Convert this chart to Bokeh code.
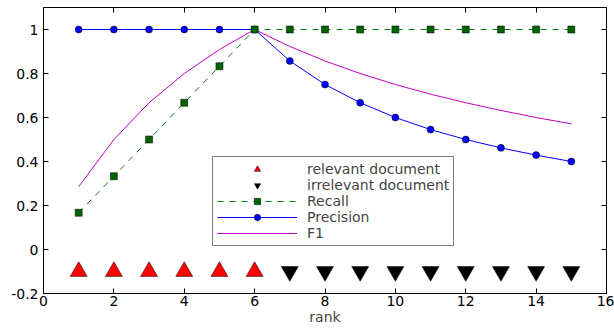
from bokeh.plotting import figure
from bokeh.models import (Range1d, FixedTicker, CustomJSTickFormatter,
                          Legend, LegendItem, LinearAxis)
from bokeh.embed import file_html
from bokeh.resources import INLINE

rank = list(range(1, 16))
relevant_rank = [1, 2, 3, 4, 5, 6]
irrelevant_rank = [7, 8, 9, 10, 11, 12, 13, 14, 15]
marker_level = -0.1
recall = [0.167, 0.333, 0.5, 0.667, 0.833, 1.0, 1.0, 1.0, 1.0, 1.0, 1.0, 1.0, 1.0, 1.0, 1.0]
precision = [1.0, 1.0, 1.0, 1.0, 1.0, 1.0, 0.857, 0.75, 0.667, 0.6, 0.545, 0.5, 0.462, 0.429, 0.4]
f1 = [0.286, 0.5, 0.667, 0.8, 0.909, 1.0, 0.923, 0.857, 0.8, 0.75, 0.706, 0.667, 0.632, 0.6, 0.571]
x_ticks = [0, 2, 4, 6, 8, 10, 12, 14, 16]
y_ticks = [-0.2, 0, 0.2, 0.4, 0.6, 0.8, 1.0]

FONT = "DejaVu Sans"

p = figure(width=614, height=332, output_backend="svg", toolbar_location=None,
           x_range=Range1d(0, 16), y_range=Range1d(-0.2, 1.1),
           min_border_left=43, min_border_right=8, min_border_top=7, min_border_bottom=39)
p.grid.visible = False
p.outline_line_color = "black"
p.outline_line_width = 1

fmt = CustomJSTickFormatter(code="return parseFloat(tick.toFixed(2)).toString();")
blank = CustomJSTickFormatter(code="return '';")

for ax in [p.xaxis[0], p.yaxis[0]]:
    ax.major_tick_in = 5
    ax.major_tick_out = 0
    ax.minor_tick_in = 0
    ax.minor_tick_out = 0
    ax.axis_line_color = "black"
    ax.major_label_text_font = FONT
    ax.major_label_text_font_size = "14px"
    ax.major_label_text_color = "black"
    ax.formatter = fmt
p.xaxis[0].ticker = FixedTicker(ticks=x_ticks)
p.yaxis[0].ticker = FixedTicker(ticks=y_ticks)
p.xaxis[0].major_label_standoff = 2
p.yaxis[0].major_label_standoff = 5
p.xaxis[0].axis_label = "rank"
p.xaxis[0].axis_label_text_font = FONT
p.xaxis[0].axis_label_text_font_size = "14px"
p.xaxis[0].axis_label_text_font_style = "normal"
p.xaxis[0].axis_label_standoff = 0

top_axis = LinearAxis(ticker=FixedTicker(ticks=x_ticks), formatter=blank,
                      major_tick_in=5, major_tick_out=0, minor_tick_in=0, minor_tick_out=0,
                      major_label_standoff=0, axis_line_color="black")
right_axis = LinearAxis(ticker=FixedTicker(ticks=y_ticks), formatter=blank,
                        major_tick_in=5, major_tick_out=0, minor_tick_in=0, minor_tick_out=0,
                        major_label_standoff=0, axis_line_color="black")
p.add_layout(top_axis, "above")
p.add_layout(right_axis, "right")

rel = p.scatter(relevant_rank, [marker_level] * len(relevant_rank), marker="triangle",
                size=17, fill_color="#ff0000", line_color="black", line_width=0.5)
irr = p.scatter(irrelevant_rank, [marker_level] * len(irrelevant_rank), marker="inverted_triangle",
                size=17, fill_color="black", line_color="black", line_width=0.5)

f1_line = p.line(rank, f1, line_color="#bf00bf", line_width=1)

prec_line = p.line(rank, precision, line_color="#0000ff", line_width=1)
prec_pts = p.scatter(rank, precision, marker="circle", size=7, fill_color="#0000ff",
                     line_color="black", line_width=0.5)

rec_line = p.line(rank, recall, line_color="#008000", line_width=1, line_dash="6 6")
rec_pts = p.scatter(rank, recall, marker="square", size=7, fill_color="#006400",
                    line_color="black", line_width=0.5)

legend = Legend(items=[
    LegendItem(label="relevant document", renderers=[rel]),
    LegendItem(label="irrelevant document", renderers=[irr]),
    LegendItem(label="Recall", renderers=[rec_line, rec_pts]),
    LegendItem(label="Precision", renderers=[prec_line, prec_pts]),
    LegendItem(label="F1", renderers=[f1_line]),
], location=(169, 47))
legend.label_text_font = FONT
legend.label_text_font_size = "14px"
legend.label_height = 16
legend.glyph_height = 16
legend.glyph_width = 80
legend.spacing = 0
legend.padding = 4
legend.margin = 0
legend.label_standoff = 10
legend.border_line_color = "black"
legend.border_line_width = 1
legend.background_fill_alpha = 1
p.add_layout(legend)

open("out.html", "w").write(file_html(p, INLINE))
